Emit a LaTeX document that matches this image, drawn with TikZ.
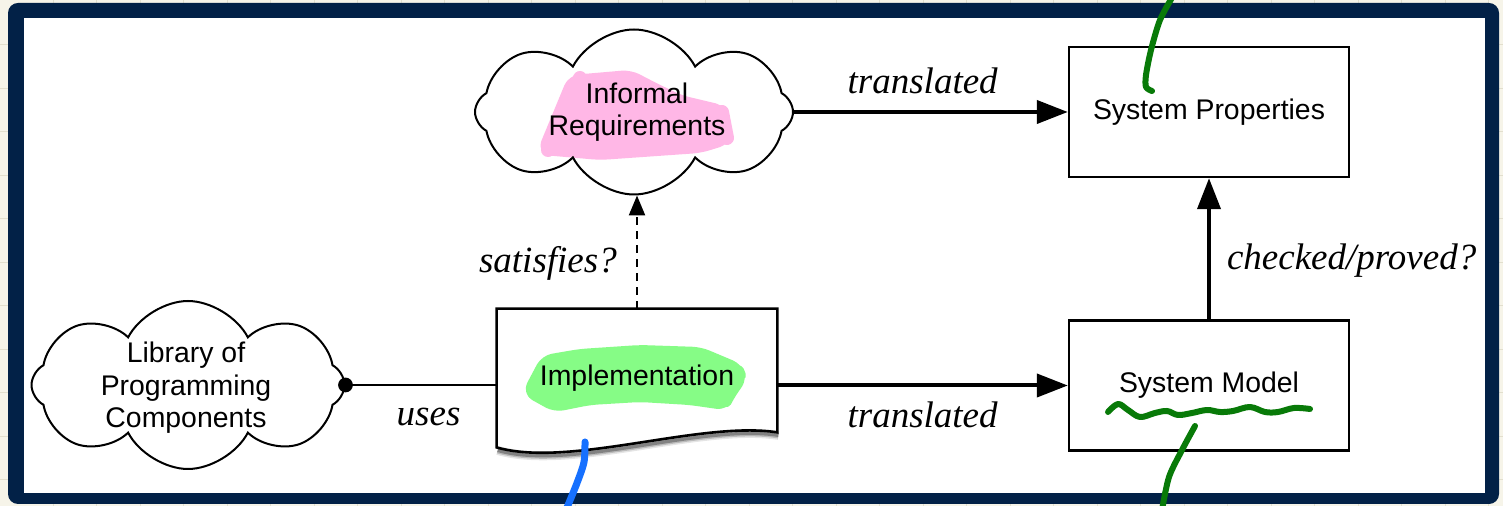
\documentclass[tikz,border=0pt]{standalone}
\usepackage{fontspec}
\setmainfont{Liberation Serif}
\setsansfont{Liberation Sans}
\usetikzlibrary{shapes.symbols, arrows.meta, calc}

\definecolor{paper}{RGB}{246,244,233}
\definecolor{gridline}{RGB}{226,223,206}
\definecolor{framecol}{RGB}{2,33,71}
\definecolor{hlpink}{RGB}{255,183,230}
\definecolor{hlgreen}{RGB}{134,252,134}
\definecolor{pengreen}{RGB}{8,122,8}
\definecolor{penblue}{RGB}{22,112,255}

\begin{document}
\begin{tikzpicture}[x=0.5pt, y=-0.5pt,
  txt/.style={font=\sffamily\fontsize{14.2}{16.3}\selectfont, align=center, inner sep=0pt},
  box/.style={txt, draw, line width=1.2pt, minimum width=140pt, minimum height=65pt},
  cloudnode/.style={cloud, cloud puffs=8, cloud puff arc=125, cloud ignores aspect,
    draw, line width=1pt, inner sep=0pt},
  lbl/.style={font=\itshape\fontsize{18.5}{22}\selectfont, inner sep=0pt},
  thickarrow/.style={line width=2pt, -{Triangle[length=15.5pt, width=11.5pt]}},
  dasharrow/.style={line width=1.2pt, dash pattern=on 4pt off 3pt,
    -{Triangle[length=10pt, width=8pt]}},
  pen/.style={line width=3pt, line cap=round, line join=round},
  marker/.style={line width=5pt, line cap=round, line join=round, rounded corners=4pt}]

\useasboundingbox (0,0) rectangle (1503,506);

% paper with faint grid
\fill[paper] (0,0) rectangle (1503,506);
\foreach \x in {53,96.5,...,1503} \draw[gridline, line width=0.5pt] (\x,0) -- (\x,506);
\foreach \y in {45,88.5,...,506} \draw[gridline, line width=0.5pt] (0,\y) -- (1503,\y);

% dark frame around the white sheet
\fill[framecol, rounded corners=5pt] (8,3) rectangle (1499,504);
\fill[white] (24,18) rectangle (1485,493);

% highlighter marks under the texts
\filldraw[hlpink, marker] (543,150) -- (572,80) -- (630,75) -- (655,88) -- (680,100)
  -- (722,110) -- (726,140) -- (700,148) -- (600,155) -- cycle;
\draw[hlpink, line width=7pt, line cap=round] (548,150) -- (580,78);
\draw[hlpink, line width=7pt, line cap=round] (722,112) -- (727,138);

\filldraw[hlgreen, marker] (528,392) -- (545,360) -- (580,354) -- (640,350) -- (700,352)
  -- (738,368) -- (742,378) -- (730,395) -- (725,405) -- (690,400) -- (640,397)
  -- (590,400) -- (555,407) -- cycle;

% clouds
\node[cloudnode, minimum width=159pt, minimum height=82.5pt] (info) at (634,112) {};
\node[txt] (infotxt) at (637,112) {Informal\\Requirements};

\node[cloudnode, minimum width=156.5pt, minimum height=84pt, shape border rotate=22] (lib) at (188,385) {};
\node[txt] (libtxt) at (186,388) {Library of\\Programming\\Components};

% boxes
\node[box] (props) at (1209,112) {System Properties};
\node[box] (model) at (1209,385.5) {System Model};

% implementation document with a wavy lower edge and a soft shadow
\node[txt, minimum width=140pt, minimum height=69pt] (impl) at (637,378) {Implementation};
\foreach \w/\o in {4.5pt/0.10, 3pt/0.18, 1.6pt/0.30}
  \draw[black, opacity=\o, line width=\w]
    ($(impl.south east)+(1,-12)$) .. controls ($(impl.south east)+(-76,-24)$)
    and ($(impl.south west)+(74,24)$) .. ($(impl.south west)+(1,3)$);
\draw[line width=1.3pt, line join=miter]
  (impl.south west) -- (impl.north west) -- (impl.north east)
  -- ($(impl.south east)+(0,-15)$)
  .. controls ($(impl.south east)+(-77,-27)$) and ($(impl.south west)+(73,21)$)
  .. (impl.south west) -- cycle;

% connectors
\draw[thickarrow] (info.east |- props.west) -- (props.west)
  node[lbl, pos=0.47, anchor=base, yshift=9pt] {translated};
\draw[thickarrow] (impl.east |- model.west) -- (model.west)
  node[lbl, midway, anchor=base, yshift=-21pt] {translated};
\draw[thickarrow] (model.north) -- (props.south)
  node[lbl, pos=0.35, anchor=base west, xshift=8pt] {checked/proved?};
\draw[dasharrow] (impl.north) -- (impl.north |- info.south)
  node[lbl, pos=0.32, anchor=base east, xshift=-9.5pt] {satisfies?};
\draw[line width=1pt] (lib.east) -- (impl.west |- lib.east)
  node[lbl, pos=0.55, anchor=base, yshift=-20.5pt] {uses};
\fill (lib.east) circle (3.7pt);

% pen annotations
\draw[pengreen, pen] plot[smooth, tension=0.6] coordinates {(1108,412) (1118,404) (1128,410)
  (1140,417) (1155,413) (1167,411) (1178,415) (1192,413) (1207,410) (1220,412)
  (1233,411) (1250,407) (1265,412) (1278,412) (1294,408) (1310,409)};
\draw[pengreen, pen] plot[smooth] coordinates {(1195,426) (1182,450) (1169,477) (1162,510)};
\draw[pengreen, pen] plot[smooth] coordinates {(1173,-4) (1160,20) (1151,50) (1146,75)
  (1146,87) (1152,91)};
\draw[penblue, pen, line width=3.5pt] plot[smooth] coordinates {(585,442) (584,462)
  (577,483) (566,510)};
\end{tikzpicture}
\end{document}
